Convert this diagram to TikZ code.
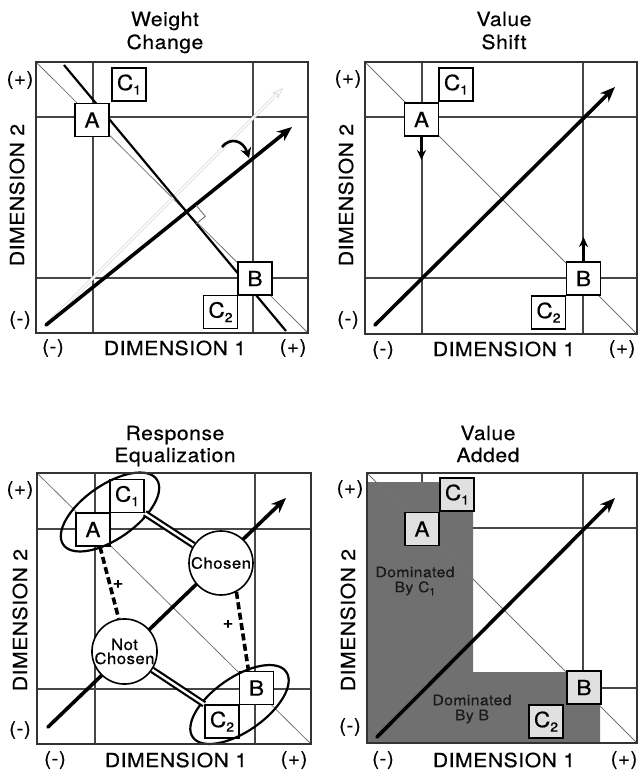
\documentclass[tikz,border=0pt]{standalone}
\usepackage{fontspec}
\setmainfont{TeX Gyre Heros}
\newfontfamily\lblfont{TeX Gyre Heros}[FakeStretch=1.08,LetterSpace=3,FakeBold=0.5]
\usetikzlibrary{arrows.meta}
\newcommand\subone{\raisebox{-0.4ex}{\fontsize{13}{13}\selectfont 1}}
\newcommand\subtwo{\raisebox{-0.4ex}{\fontsize{13}{13}\selectfont 2}}
\begin{document}
\begin{tikzpicture}[x=1pt,y=-1pt,
  frame/.style={draw=black!80,line width=1.6pt},
  gridln/.style={draw=black!72,line width=1.3pt},
  diag/.style={draw=black!55,line width=0.8pt},
  mainarrow/.style={line width=3.6pt,line cap=round,-{Stealth[length=15pt,width=12pt]}},
  smallarrow/.style={line width=2.8pt,-{Stealth[length=10pt,width=9pt]}},
  ghost/.style={draw=black!15,line width=0.7pt,double=white,double distance=1.6pt,-{Stealth[open,length=12pt,width=9pt]}},
  lbox/.style={draw,line width=1.6pt,fill=white,minimum width=34pt,minimum height=33pt,inner sep=0pt,font=\lblfont\fontsize{21}{21}\selectfont},
  ttl/.style={anchor=base,font=\lblfont\fontsize{19.5}{22}\selectfont},
  axlab/.style={font=\lblfont\fontsize{19.5}{22}\selectfont},
  sgn/.style={font=\lblfont\fontsize{19}{20}\selectfont},
  choice/.style={circle,draw,line width=1.6pt,fill=white,minimum size=64pt,inner sep=0pt,align=center,font=\lblfont\fontsize{15.5}{16}\selectfont},
  pair/.style={line width=2.2pt},
  dbl/.style={line width=2.2pt,double,double distance=2.4pt},
  dashln/.style={line width=3.6pt,dash pattern=on 7pt off 3.5pt},
  plus/.style={font=\lblfont\bfseries\fontsize{16}{16}\selectfont},
  shade/.style={fill=black!56,draw=none},
  domtext/.style={align=center,font=\lblfont\fontsize{14.5}{15}\selectfont,text=black!90}
]
\useasboundingbox (0,0) rectangle (638,770);

% ---------------- Weight Change ----------------
\node[ttl] (t1a) at (165,26) {Weight};
\node[ttl] (t1b) at (165,49) {Change};
\draw[gridln] (93,62)--(93,333) (253,62)--(253,333) (36,117)--(308,117) (36,278)--(308,278);
\draw[diag] (36,62)--(308,333);
\coordinate (wg0) at (46,325);
\coordinate (wg1) at (283,88);
\draw[ghost] (wg0)--(wg1);
\coordinate (wl0) at (64,65);
\coordinate (wl1) at (286,331);
\draw[pair] (wl0)--(wl1);
\coordinate (wo) at (46,325);
\coordinate (wh) at (292,127);
\draw[mainarrow] (wo)--(wh);
\draw[black!55,line width=0.9pt] (196,224)--(205.3,216.3)--(196,205.2);
\coordinate (wr0) at (222,147);
\coordinate (wr1) at (249,158);
\draw[line width=2.6pt,-{Stealth[length=10pt,width=11pt]}] (wr0) .. controls (230,137) and (243,140) .. (wr1);
\node[lbox] (wA) at (92,120) {A};
\node[lbox] (wC1) at (129,84.5) {C\subone};
\node[lbox] (wB) at (255,278.5) {B};
\node[lbox] (wC2) at (220.5,312) {C\subtwo};
\draw[frame] (36,62) rectangle (308,333);
\node[sgn] (w+y) at (20,80) {(+)};
\node[sgn] (w-y) at (20,320) {(-)};
\node[sgn] (w-x) at (53,348) {(-)};
\node[sgn] (w+x) at (293,348) {(+)};
\node[axlab] (wd1) at (175,348) {DIMENSION 1};
\node[axlab,rotate=90] (wd2) at (17,195) {DIMENSION 2};

% ---------------- Value Shift ----------------
\node[ttl] (t2a) at (504,26) {Value};
\node[ttl] (t2b) at (504,49) {Shift};
\draw[gridln] (422,62)--(422,334) (583,62)--(583,334) (365,117)--(637,117) (365,278)--(637,278);
\draw[diag] (365,62)--(637,334);
\coordinate (so) at (375,325);
\coordinate (sh) at (615,87);
\draw[mainarrow] (so)--(sh);
\node[lbox] (sA) at (421.5,119.5) {A};
\node[lbox] (sC1) at (456,84.5) {C\subone};
\node[lbox] (sB) at (583.5,278.5) {B};
\node[lbox] (sC2) at (548.5,312.5) {C\subtwo};
\coordinate (sAt) at (421.5,160);
\coordinate (sBt) at (583.5,237);
\draw[smallarrow] (sA.south)--(sAt);
\draw[smallarrow] (sB.north)--(sBt);
\draw[frame] (365,62) rectangle (637,334);
\node[sgn] (s+y) at (348,79) {(+)};
\node[sgn] (s-y) at (348,320) {(-)};
\node[sgn] (s-x) at (383,350) {(-)};
\node[sgn] (s+x) at (622,349) {(+)};
\node[axlab] (sd1) at (504,349) {DIMENSION 1};
\node[axlab,rotate=90] (sd2) at (346,195) {DIMENSION 2};

% ---------------- Response Equalization ----------------
\node[ttl] (t3a) at (175,440) {Response};
\node[ttl] (t3b) at (175,462) {Equalization};
\draw[gridln] (95,473)--(95,744) (255,473)--(255,744) (37,529)--(311,529) (37,689)--(311,689);
\draw[diag] (37,473)--(311,744);
\coordinate (ro) at (48,727);
\coordinate (rh) at (286,498);
\draw[mainarrow] (ro)--(rh);
\node[lbox] (rA) at (93,529.5) {A};
\node[lbox] (rC1) at (127,496) {C\subone};
\node[lbox] (rB) at (256.5,688) {B};
\node[lbox] (rC2) at (222,721.5) {C\subtwo};
\node[choice] (chosen) at (221,563) {Chosen};
\node[choice] (notchosen) at (124.5,651.5) {Not\\[-2pt]Chosen};
\draw[pair,rotate around={35:(110,512)}] (110,512) ellipse [x radius=57, y radius=27];
\draw[pair,rotate around={35:(239.5,704.5)}] (239.5,704.5) ellipse [x radius=57, y radius=27];
\draw[dbl] (rC1.south east)--(chosen);
\draw[dbl] (notchosen)--(rC2.north west);
\draw[dashln] ([xshift=7pt]rA.south)--(notchosen.100);
\draw[dashln] (chosen.-62)--([xshift=-8pt]rB.north);
\node[plus] (p1) at (118,584) {+};
\node[plus] (p2) at (228,624) {+};
\draw[frame] (37,473) rectangle (311,744);
\node[sgn] (r+y) at (20,490) {(+)};
\node[sgn] (r-y) at (20,730) {(-)};
\node[sgn] (r-x) at (55,760) {(-)};
\node[sgn] (r+x) at (294,760) {(+)};
\node[axlab] (rd1) at (176,760) {DIMENSION 1};
\node[axlab,rotate=90] (rd2) at (20,620) {DIMENSION 2};

% ---------------- Value Added ----------------
\node[ttl] (t4a) at (488,440) {Value};
\node[ttl] (t4b) at (488,462) {Added};
\draw[gridln] (422,473)--(422,743) (583,473)--(583,743) (367,528)--(637,528) (367,688)--(637,688);
\fill[shade] (367,482)--(473,482)--(473,672)--(600,672)--(600,743)--(367,743)--cycle;
\draw[diag] (367,473)--(637,743);
\coordinate (vo) at (377,737);
\coordinate (vh) at (615,498);
\draw[mainarrow] (vo)--(vh);
\node[lbox,fill=black!12] (vA) at (422,529) {A};
\node[lbox,fill=black!12] (vC1) at (457,494.5) {C\subone};
\node[lbox,fill=black!12] (vB) at (584,687.5) {B};
\node[lbox,fill=black!12] (vC2) at (546,721.5) {C\subtwo};
\node[domtext] (dom1) at (415,581) {Dominated\\By C\raisebox{-0.4ex}{\fontsize{10}{10}\selectfont 1}};
\node[domtext] (dom2) at (472,709) {Dominated\\By B};
\draw[frame] (367,473) rectangle (637,743);
\node[sgn] (v+y) at (350,489) {(+)};
\node[sgn] (v-y) at (350,727) {(-)};
\node[sgn] (v-x) at (383,760) {(-)};
\node[sgn] (v+x) at (624,760) {(+)};
\node[axlab] (vd1) at (504,760) {DIMENSION 1};
\node[axlab,rotate=90] (vd2) at (348,620) {DIMENSION 2};
\end{tikzpicture}
\end{document}
